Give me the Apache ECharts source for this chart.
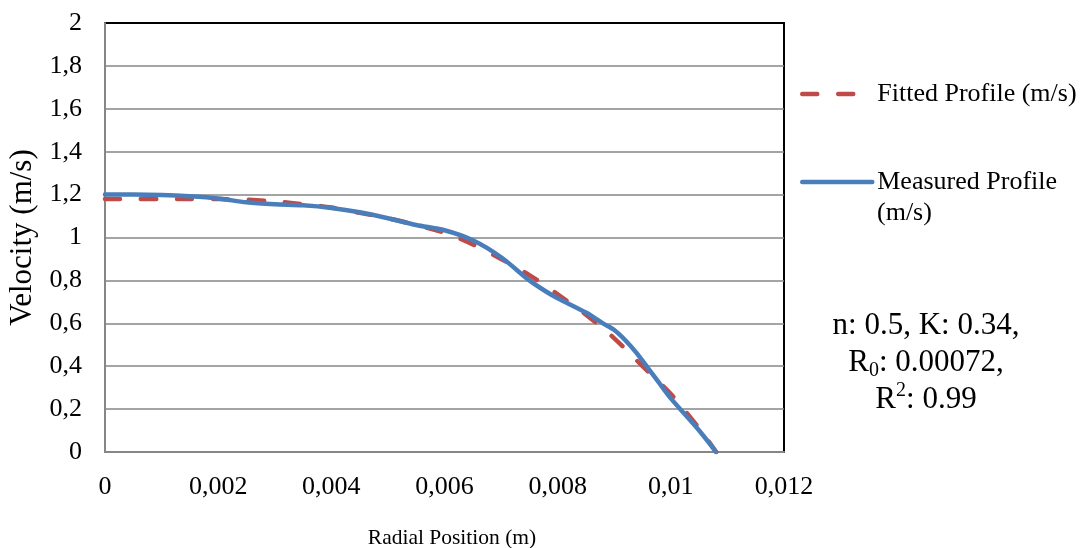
<!DOCTYPE html>
<html>
<head>
<meta charset="utf-8">
<script src="https://cdn.jsdelivr.net/npm/echarts@6/dist/echarts.min.js"></script>
<style>
html,body{margin:0;padding:0;background:#fff;}
#chart{width:1081px;height:548px;}
</style>
</head>
<body>
<div id="chart"></div>
<script>
// Data
const fittedX = [0, 0.0005, 0.001, 0.0015, 0.002, 0.0025, 0.003, 0.0035, 0.004, 0.0045, 0.005, 0.0055, 0.006, 0.0065, 0.007, 0.0075, 0.008, 0.0085, 0.009, 0.0095, 0.01, 0.0105, 0.0108];
const fittedY = [1.18, 1.18, 1.18, 1.18, 1.179, 1.176, 1.168, 1.155, 1.14, 1.115, 1.09, 1.058, 1.022, 0.968, 0.9, 0.825, 0.735, 0.64, 0.53, 0.4, 0.27, 0.11, 0];
const measuredX = [0, 0.0005, 0.001, 0.0015, 0.002, 0.0025, 0.003, 0.0035, 0.004, 0.0045, 0.005, 0.0055, 0.006, 0.0065, 0.007, 0.0075, 0.0078, 0.008, 0.0085, 0.0088, 0.009, 0.0092, 0.0094, 0.0096, 0.0098, 0.01, 0.0105, 0.0108];
const measuredY = [1.2, 1.2, 1.198, 1.192, 1.182, 1.164, 1.155, 1.15, 1.138, 1.118, 1.09, 1.058, 1.034, 0.987, 0.908, 0.8, 0.747, 0.717, 0.65, 0.6, 0.569, 0.52, 0.46, 0.39, 0.32, 0.25, 0.1, 0];
const xTickLabels = ['0', '0,002', '0,004', '0,006', '0,008', '0,01', '0,012'];
const yTickLabels = ['0', '0,2', '0,4', '0,6', '0,8', '1', '1,2', '1,4', '1,6', '1,8', '2'];

const FONT = '"Liberation Serif", "Times New Roman", serif';
const pairs = (xs, ys) => xs.map((x, i) => [x, ys[i]]);
const RED = '#be4b48', BLUE = '#4a7ebb';

const legendCommon = {
  orient: 'vertical', left: 800, padding: 0,
  itemWidth: 70, itemHeight: 2, itemGap: 5,
  itemStyle: {color: 'rgba(0,0,0,0)', borderWidth: 0, opacity: 0},
  textStyle: {fontFamily: FONT, fontSize: 26, color: '#000'}
};

const chart = echarts.init(document.getElementById('chart'), null, {renderer: 'canvas'});
chart.setOption({
  animation: false,
  backgroundColor: '#fff',
  grid: {
    left: 105, top: 23, right: 297, bottom: 96,
    outerBoundsMode: 'none', containLabel: false,
    show: true, borderColor: '#000', borderWidth: 2, backgroundColor: 'transparent'
  },
  xAxis: {
    type: 'value', min: 0, max: 0.012, interval: 0.002,
    name: 'Radial Position (m)', nameLocation: 'middle', nameGap: 75,
    nameTextStyle: {fontFamily: FONT, fontSize: 21.5, color: '#000', padding: [0, 0, 0, 15]},
    axisLine: {show: true, onZero: false, lineStyle: {color: '#868686', width: 2}},
    axisTick: {show: false},
    splitLine: {show: false},
    axisLabel: {
      margin: 22, fontFamily: FONT, fontSize: 26, color: '#000',
      formatter: (v) => xTickLabels[Math.round(v / 0.002)]
    }
  },
  yAxis: {
    type: 'value', min: 0, max: 2, interval: 0.2,
    name: 'Velocity (m/s)', nameLocation: 'middle', nameGap: 57,
    nameTextStyle: {fontFamily: FONT, fontSize: 31, color: '#000'},
    axisLine: {show: true, lineStyle: {color: '#868686', width: 2}},
    axisTick: {show: false},
    splitLine: {show: true, showMaxLine: false, lineStyle: {color: '#868686', width: 1.5}},
    axisLabel: {
      margin: 23, fontFamily: FONT, fontSize: 26, color: '#000',
      formatter: (v) => yTickLabels[Math.round(v / 0.2)]
    }
  },
  legend: [
    Object.assign({}, legendCommon, {
      data: ['Fitted Profile (m/s)'], top: 81,
      lineStyle: {color: RED, width: 4.5, type: [15, 21], cap: 'round'}
    }),
    Object.assign({}, legendCommon, {
      data: ['Measured Profile (m/s)'], top: 169,
      formatter: () => 'Measured Profile',
      lineStyle: {color: BLUE, width: 4.5, cap: 'round'}
    })
  ],
  graphic: [
    {
      type: 'text', left: 877, top: 200, silent: true,
      style: {text: '(m/s)', font: '26px ' + FONT, fill: '#000'}
    },
    {
      type: 'text', x: 926, y: 307, silent: true,
      style: {
        text: '{m|n: 0.5, K: 0.34,}\n{m|R}{sub|0}{m|: 0.00072,}\n{m|R}{sup|2}{m|: 0.99}',
        align: 'center', verticalAlign: 'top', fill: '#000',
        font: '31px ' + FONT,
        rich: {
          m: {fontFamily: FONT, fontSize: 31, lineHeight: 37, fill: '#000', color: '#000'},
          sub: {fontFamily: FONT, fontSize: 20, lineHeight: 20, verticalAlign: 'bottom', fill: '#000', color: '#000'},
          sup: {fontFamily: FONT, fontSize: 20, lineHeight: 20, verticalAlign: 'top', fill: '#000', color: '#000'}
        }
      }
    }
  ],
  series: [
    {
      name: 'Fitted Profile (m/s)', type: 'line', data: pairs(fittedX, fittedY),
      smooth: 0.3, showSymbol: false, symbol: 'none', z: 2,
      lineStyle: {color: RED, width: 4.5, type: [15, 21], cap: 'round'},
      itemStyle: {color: RED}
    },
    {
      name: 'Measured Profile (m/s)', type: 'line', data: pairs(measuredX, measuredY),
      smooth: 0.3, showSymbol: false, symbol: 'none', z: 3,
      lineStyle: {color: BLUE, width: 4.5, cap: 'round'},
      itemStyle: {color: BLUE}
    }
  ]
});
</script>
</body>
</html>
